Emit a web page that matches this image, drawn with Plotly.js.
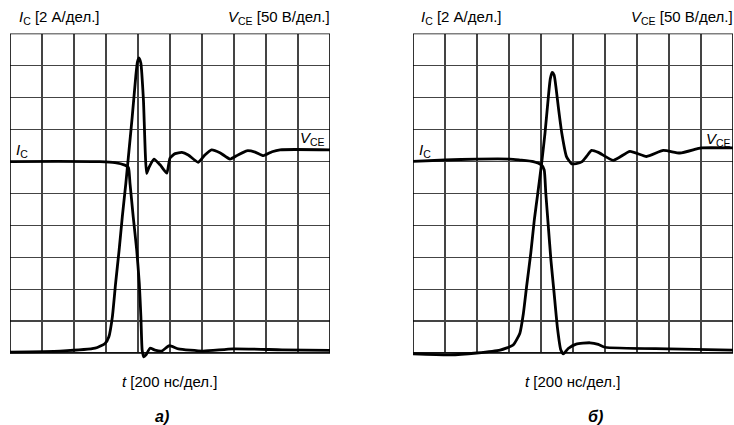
<!DOCTYPE html>
<html>
<head>
<meta charset="utf-8">
<script src="https://cdn.plot.ly/plotly-3.0.1.min.js"></script>
<style>html,body{margin:0;padding:0;background:#fff;}#chart{width:734px;height:425px;}</style>
</head>
<body>
<div id="chart"></div>
<script>
// Time axis: divisions (200 ns/div), vertical axis: divisions (Ic 2 A/div, VCE 50 V/div)
const aIcX  = [0, 1.5, 2.81, 3.28, 3.59, 3.70, 3.75, 3.85, 3.96, 4.04, 4.09, 4.13, 4.18, 4.25, 4.375, 4.53, 4.74, 4.98, 5.26, 6.03, 6.97, 8.5, 10];
const aIcY  = [5.99, 6.0, 5.99, 5.96, 5.88, 5.81, 5.31, 4.27, 3.22, 2.18, 1.14, 0.09, -0.12, -0.06, 0.15, 0.09, 0.06, 0.23, 0.13, 0.06, 0.13, 0.1, 0.08];
const aVceX = [0, 1.56, 2.66, 2.97, 3.09, 3.20, 3.30, 3.41, 3.51, 3.62, 3.72, 3.82, 3.93, 3.98, 4.03, 4.09, 4.17, 4.27, 4.34, 4.5, 4.69, 4.9, 5.0, 5.16, 5.37, 5.57, 5.88, 6.09, 6.3, 6.56, 6.875, 7.125, 7.4, 7.66, 7.92, 8.19, 8.44, 10];
const aVceY = [0.03, 0.06, 0.15, 0.30, 0.51, 1.14, 2.18, 3.22, 4.27, 5.31, 6.35, 7.40, 8.65, 9.1, 9.24, 9.07, 7.92, 5.62, 5.8, 6.07, 5.89, 5.63, 6.1, 6.24, 6.28, 6.2, 5.97, 6.2, 6.36, 6.27, 6.07, 6.2, 6.33, 6.29, 6.18, 6.3, 6.36, 6.36];

const bIcX  = [0, 1.0, 1.99, 3.03, 3.34, 3.76, 4.02, 4.10, 4.15, 4.23, 4.31, 4.41, 4.51, 4.62, 4.70, 4.85, 5.1, 5.53, 5.79, 6.0, 8.0, 10];
const bIcY  = [6.0, 6.04, 6.07, 6.07, 6.04, 5.99, 5.88, 5.73, 5.0, 3.95, 2.91, 1.87, 0.82, 0.09, -0.03, 0.14, 0.28, 0.32, 0.27, 0.18, 0.13, 0.09];
const bVceX = [0, 1.16, 1.99, 2.72, 3.13, 3.34, 3.45, 3.55, 3.68, 3.79, 3.90, 4.02, 4.125, 4.23, 4.29, 4.35, 4.41, 4.47, 4.54, 4.65, 4.80, 4.96, 5.1, 5.27, 5.42, 5.58, 5.79, 6.26, 6.78, 7.3, 7.82, 8.34, 8.87, 9.02, 10];
const bVceY = [-0.03, -0.06, 0.0, 0.09, 0.25, 0.62, 1.24, 2.08, 3.12, 4.16, 5.0, 5.94, 6.88, 8.02, 8.58, 8.78, 8.7, 8.3, 7.71, 6.88, 6.14, 5.92, 5.93, 5.98, 6.15, 6.34, 6.28, 6.03, 6.31, 6.15, 6.34, 6.26, 6.39, 6.42, 6.42];

const W = 734, H = 425;
const px = x => x / W;
const py = y => 1 - y / H;

const lineStyle = {color: '#000', width: 2.8, shape: 'spline', smoothing: 0.5};
const traces = [
  {x: aIcX, y: aIcY, xaxis: 'x', yaxis: 'y', mode: 'lines', line: lineStyle, hoverinfo: 'skip'},
  {x: aVceX, y: aVceY, xaxis: 'x', yaxis: 'y', mode: 'lines', line: lineStyle, hoverinfo: 'skip'},
  {x: bIcX, y: bIcY, xaxis: 'x2', yaxis: 'y2', mode: 'lines', line: lineStyle, hoverinfo: 'skip'},
  {x: bVceX, y: bVceY, xaxis: 'x2', yaxis: 'y2', mode: 'lines', line: lineStyle, hoverinfo: 'skip'}
];

// y: 0 at px 353, 10 at px 33.5; range extended a bit below 0 so the small undershoot shows
const unit = (353 - 33.5) / 10;
const yLow = -0.25;
const yDom = [py(353 - yLow * unit), py(33.5)];

const gridAxis = {
  range: [0, 10], dtick: 1, tick0: 0, showgrid: true, gridcolor: '#444', gridwidth: 1.2,
  zeroline: false, showline: false, showticklabels: false, ticks: '', fixedrange: true
};
const layout = {
  width: W, height: H, margin: {l: 0, r: 0, t: 0, b: 0},
  paper_bgcolor: '#fff', plot_bgcolor: '#fff', showlegend: false,
  xaxis: Object.assign({}, gridAxis, {domain: [px(10), px(330)], anchor: 'y'}),
  yaxis: Object.assign({}, gridAxis, {domain: yDom, range: [yLow, 10], anchor: 'x'}),
  xaxis2: Object.assign({}, gridAxis, {domain: [px(413), px(733)], anchor: 'y2'}),
  yaxis2: Object.assign({}, gridAxis, {domain: yDom, range: [yLow, 10], anchor: 'x2'}),
  shapes: [
    {type: 'rect', xref: 'x', yref: 'y', x0: -0.1, x1: 10.1, y0: yLow, y1: 0, line: {width: 0}, fillcolor: '#fff', layer: 'between'},
    {type: 'rect', xref: 'x2', yref: 'y2', x0: -0.1, x1: 10.1, y0: yLow, y1: 0, line: {width: 0}, fillcolor: '#fff', layer: 'between'},
    {type: 'rect', xref: 'x', yref: 'y', x0: 0, x1: 10, y0: 0, y1: 10, line: {color: '#000', width: 1.6}, layer: 'between'},
    {type: 'rect', xref: 'x2', yref: 'y2', x0: 0, x1: 10, y0: 0, y1: 10, line: {color: '#000', width: 1.6}, layer: 'between'}
  ],
  font: {family: 'Liberation Sans, Arial, sans-serif', size: 15, color: '#000'},
  annotations: []
};

function ann(text, x, y, xanchor, size) {
  layout.annotations.push({
    text: text, xref: 'paper', yref: 'paper', x: px(x), y: py(y),
    xanchor: xanchor, yanchor: 'middle', showarrow: false,
    font: {family: 'Liberation Sans, Arial, sans-serif', size: size || 15, color: '#000'}
  });
}
ann('<i>I</i><sub>C</sub> [2 А/дел.]', 17, 17, 'left');
ann('<i>V</i><sub>CE</sub> [50 В/дел.]', 332, 17, 'right');
ann('<i>I</i><sub>C</sub> [2 А/дел.]', 419, 17, 'left');
ann('<i>V</i><sub>CE</sub> [50 В/дел.]', 735, 17, 'right');
ann('<i>I</i><sub>C</sub>', 14, 150, 'left');
ann('<i>V</i><sub>CE</sub>', 327, 138, 'right');
ann('<i>I</i><sub>C</sub>', 417, 151, 'left');
ann('<i>V</i><sub>CE</sub>', 733, 139, 'right');
ann('<i>t</i> [200 нс/дел.]', 169, 381, 'center');
ann('<i>t</i> [200 нс/дел.]', 572.5, 381, 'center');
ann('<b><i>а)</i></b>', 162, 416, 'center', 16);
ann('<b><i>б)</i></b>', 595, 416, 'center', 16);

Plotly.newPlot('chart', traces, layout, {staticPlot: true, displayModeBar: false});
</script>
</body>
</html>
